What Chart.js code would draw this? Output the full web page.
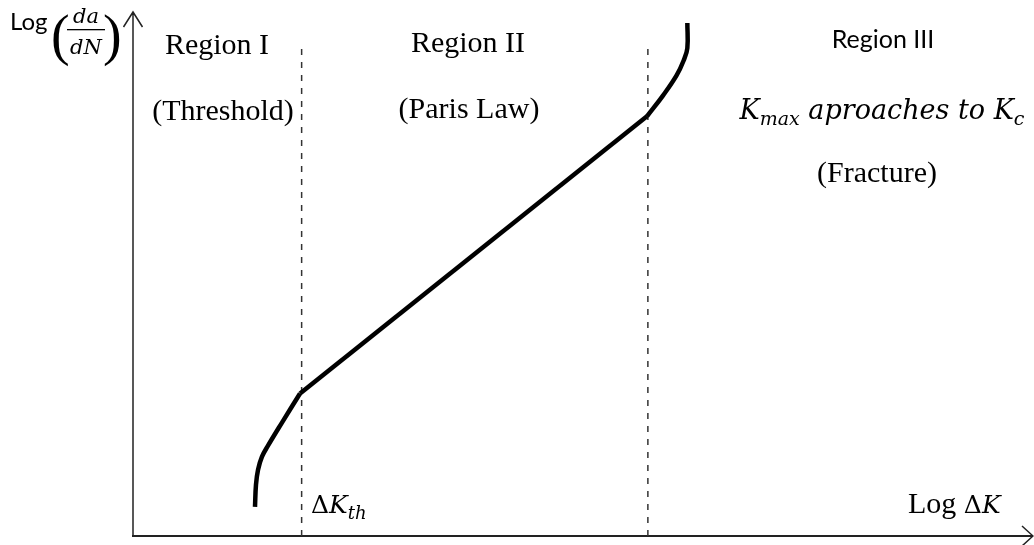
<!DOCTYPE html>
<html>
<head>
<meta charset="utf-8">
<script src="https://cdn.jsdelivr.net/npm/chart.js@4/dist/chart.umd.min.js"></script>
<style>
  html, body { margin: 0; padding: 0; background: #fff; }
  #wrap { width: 1034px; height: 545px; }
</style>
</head>
<body>
<div id="wrap"><canvas id="crack-growth"></canvas></div>
<script>
// Log dK on x, Log da/dN on y, both in arbitrary units 0..100
var thresholdX = [13.6, 13.71, 13.94, 14.38, 15.05, 16.61, 18.62];
var thresholdY = [5.56, 9.77, 12.64, 15.13, 17.24, 21.65, 27.2];
var parisX = [18.62, 57.3];
var parisY = [27.2, 80.1];
var fractureX = [57.3, 59.1, 60.6, 61.4, 61.8, 61.8];
var fractureY = [80.1, 84.1, 87.9, 90.8, 93.1, 97.9];
var boundaryX = [18.8, 57.4];   // dK_th and start of region III
var boundaryTop = 93.5;

function toPoints(xs, ys) {
  var pts = [];
  for (var i = 0; i < xs.length; i++) {
    pts.push({x: xs[i], y: ys[i]});
  }
  return pts;
}

var SERIF = '"Liberation Serif", "Times New Roman", serif';
var MATH = '"DejaVu Serif", serif';
var SANS = 'Lato, "Open Sans", sans-serif';

// draws a row of differently styled pieces, e.g. K + subscript
function drawRuns(ctx, runs, x, y, align) {
  var total = 0;
  runs.forEach(function(r) {
    ctx.font = r.font;
    r.w = ctx.measureText(r.t).width;
    total += r.w;
  });
  var cx = align === 'center' ? x - total / 2 : x;
  runs.forEach(function(r) {
    ctx.font = r.font;
    ctx.fillText(r.t, cx, y + (r.dy || 0));
    cx += r.w;
  });
}

var diagramPlugin = {
  id: 'diagram',
  beforeDatasetsDraw: function(chart) {
    var ctx = chart.ctx;
    var a = chart.chartArea;
    ctx.save();
    ctx.strokeStyle = '#222';
    ctx.lineCap = 'butt';
    // vertical axis + arrow
    ctx.lineWidth = 1.5;
    ctx.beginPath();
    ctx.moveTo(a.left, a.bottom);
    ctx.lineTo(a.left, a.top);
    ctx.moveTo(a.left - 9.5, a.top + 15);
    ctx.lineTo(a.left, a.top);
    ctx.lineTo(a.left + 9.5, a.top + 15);
    ctx.stroke();
    // horizontal axis + arrow
    ctx.lineWidth = 2;
    ctx.beginPath();
    ctx.moveTo(a.left - 1, a.bottom);
    ctx.lineTo(a.right + 3, a.bottom);
    ctx.stroke();
    ctx.lineWidth = 1.5;
    ctx.beginPath();
    ctx.moveTo(a.right - 8, a.bottom - 10);
    ctx.lineTo(a.right + 3, a.bottom);
    ctx.lineTo(a.right - 8, a.bottom + 10);
    ctx.stroke();
    ctx.restore();
  },
  afterDraw: function(chart) {
    var ctx = chart.ctx;
    ctx.save();
    ctx.fillStyle = '#000';
    ctx.textBaseline = 'alphabetic';
    ctx.textAlign = 'left';

    // y axis title: Log (da/dN)
    drawRuns(ctx, [{t: 'Log', font: '24px ' + SANS}], 10, 30, 'left');
    ctx.font = '56px ' + SERIF;
    ctx.fillText('(', 51, 54);
    ctx.fillText(')', 103, 54);
    drawRuns(ctx, [{t: 'da', font: 'italic 21px ' + MATH}], 86, 23, 'center');
    drawRuns(ctx, [{t: 'dN', font: 'italic 21px ' + MATH}], 86, 54, 'center');
    ctx.fillRect(67, 29, 38, 1.3);

    // region captions
    drawRuns(ctx, [{t: 'Region I', font: '30px ' + SERIF}], 217, 54, 'center');
    drawRuns(ctx, [{t: '(Threshold)', font: '30px ' + SERIF}], 223, 120, 'center');
    drawRuns(ctx, [{t: 'Region II', font: '30px ' + SERIF}], 468, 52, 'center');
    drawRuns(ctx, [{t: '(Paris Law)', font: '30px ' + SERIF}], 469, 118, 'center');
    drawRuns(ctx, [{t: 'Region III', font: '25px ' + SANS}], 883, 48, 'center');
    drawRuns(ctx, [
      {t: 'K', font: 'italic 27px ' + MATH},
      {t: 'max', font: 'italic 19px ' + MATH, dy: 6},
      {t: ' aproaches to ', font: 'italic 27px ' + MATH},
      {t: 'K', font: 'italic 27px ' + MATH},
      {t: 'c', font: 'italic 19px ' + MATH, dy: 6}
    ], 882, 119, 'center');
    drawRuns(ctx, [{t: '(Fracture)', font: '30px ' + SERIF}], 877, 182, 'center');

    // axis annotations
    drawRuns(ctx, [
      {t: '\u0394', font: '25px ' + MATH},
      {t: 'K', font: 'italic 25px ' + MATH},
      {t: 'th', font: 'italic 18px ' + MATH, dy: 6}
    ], 311, 513, 'left');
    drawRuns(ctx, [
      {t: 'Log ', font: '30px ' + SERIF},
      {t: '\u0394', font: '25px ' + MATH},
      {t: 'K', font: 'italic 25px ' + MATH}
    ], 908, 513, 'left');
    ctx.restore();
  }
};

var curveStyle = {
  borderColor: '#000',
  borderWidth: 4.5,
  pointRadius: 0,
  showLine: true,
  fill: false
};

function boundary(x) {
  return {
    data: [{x: x, y: 0}, {x: x, y: boundaryTop}],
    borderColor: '#333',
    borderWidth: 1.5,
    borderDash: [6, 7],
    pointRadius: 0,
    showLine: true,
    fill: false
  };
}

var crackChart = new Chart(document.getElementById('crack-growth'), {
  type: 'scatter',
  data: {
    datasets: [
      Object.assign({data: toPoints(thresholdX, thresholdY), tension: 0.4}, curveStyle),
      Object.assign({data: toPoints(parisX, parisY), tension: 0}, curveStyle),
      Object.assign({data: toPoints(fractureX, fractureY), tension: 0.4}, curveStyle),
      boundary(boundaryX[0]),
      boundary(boundaryX[1])
    ]
  },
  plugins: [diagramPlugin],
  options: {
    responsive: true,
    maintainAspectRatio: false,
    animation: false,
    layout: {
      padding: {left: 133, top: 12, right: 4, bottom: 9}
    },
    scales: {
      x: {type: 'linear', min: 0, max: 100, display: false},
      y: {type: 'linear', min: 0, max: 100, display: false}
    },
    plugins: {
      legend: {display: false},
      tooltip: {enabled: false},
      title: {display: false}
    }
  }
});
</script>
</body>
</html>
